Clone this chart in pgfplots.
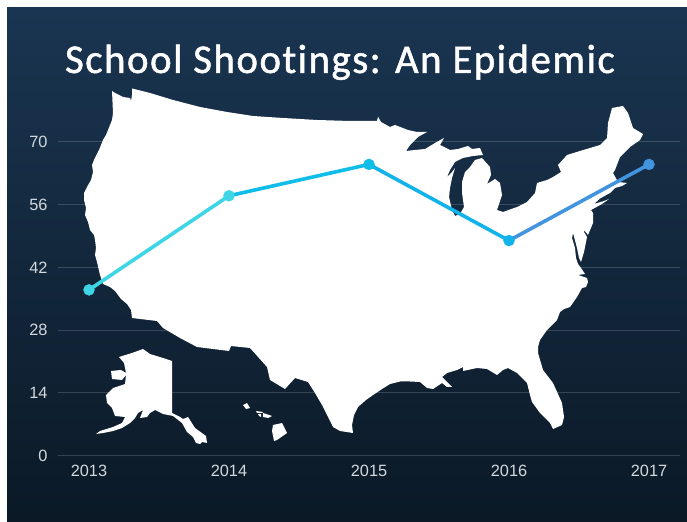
\documentclass[border=0pt]{standalone}
\usepackage{pgfplots}
\pgfplotsset{compat=1.18}
\usepackage{fontspec}
\setmainfont{Liberation Sans}
\newfontfamily\titlefont[LetterSpace=3.7,FakeBold=1.2,Ligatures=NoCommon]{Carlito}
\definecolor{bgtop}{HTML}{1A3551}
\definecolor{bgbot}{HTML}{0B1926}
\definecolor{tick}{HTML}{D4D8DC}
\definecolor{c1}{HTML}{3ED6E6}
\definecolor{c2}{HTML}{10BCE8}
\definecolor{c3}{HTML}{12B2EA}
\definecolor{c4}{HTML}{4294DE}
\begin{document}
\begin{tikzpicture}[x=1bp,y=1bp]
\useasboundingbox (0,0) rectangle (687,522);
\fill[white] (0,0) rectangle (687,522);
\foreach \i in {0,...,128}{
  \pgfmathsetmacro{\p}{100-\i*100/128}
  \pgfmathsetmacro{\yt}{514.5-\i*4}
  \fill[bgtop!\p!bgbot] (6.7,0) rectangle (687,\yt);
}
% map, in picture pixels
\begin{axis}[at={(0bp,0bp)},anchor=south west,scale only axis,width=687bp,height=522bp,
  xmin=0,xmax=687,ymin=0,ymax=522,y dir=reverse,hide axis]
\addplot[fill=white,draw=none] coordinates {
(112,91)(115,93)(123,97)(130,98)(131,101)(132,95)(132,88.5)(150,93)(173,100)(200,107)(227,112)(253,116)(283,118)(317,120)(350,121)(377,121)(378,116.7)(381,122)(390,127)(395,125)(408,130)(417,132)(427,132)
(418,137)(410,145)(406,151)(415,150)(425,149)(435,143)(444,138)(440,145)(450,150)(458,149)(468,146)(472,149)(480,148)(483,155)(473,156)(463,158)(455,162)(450,170)(447,177)(452,172)(455,168)(452,178)(450,188)(449,197)(452,210)(455,216)(460,214)(464,207)(462,193)(462,182)(465,172)(470,167)(475,160)(482,158)(490,167)(491,175)(487,184)(495,179)(500,183)(502,195)(497,210)(503,212)(517,207)(527,202)(535,193)(537,183)(547,180)(553,177)(561,172)(558,165)(567,155)(580,151)(600,145)(607,138)(608,123)(612,108)(623,106)(628,113)(633,128)(643,134)(640,140)(630,147)(620,157)(615,170)(613,173)(618,182)(627,183)(622,186)(615,188)(610,193)(600,198.5)(594,204)(604,201)(609,199)(602,204)(591,210)(593,213)(593,223)(588,235)(584,230)(584,232)(587,237)(584,252)(581,262)(579,258)(577,248)(573,233)(572,238)(575,248)(576,258)(578,264)(581,268)(585,274)(578,275)(587,278)(588,282)(586,287)(582,288)(577,297)(570,307)(564,309)(560,312)(557,320)(547,330)(540,340)(538,347)(538,353)(543,370)(553,383)(558,394)(562,403)(564,417)(562,425)(553,429)(550,423)(540,413)(532,402)(530,395)(527,383)(517,373)(508,368)(503,370)(497,375)(487,369)(477,368)(463,371)(463,367)(457,370)(447,373)(442,377)(452,387)(447,387)(442,383)(433,389)(427,388)(420,382)(410,381.5)(400,381.5)(390,384)(382,389)(373,395)(366,400)(358,407)(354,415)(352,425)(353,433)(340,431)(333,427)(328,417)(322,405)(315,393)(308,382)(295,378)(285,389)(270,380)(267,367)(259,358)(250,348)(231,346)(229,351)(197,347)(180,338)(163,328)(157,321)(132,318)(131,310)(127,304)(121,299)(115,291)(110,287)(103,284)(100,275)(97,262)(95,255)(96,248)(95,240)(94,235)(90,230)(88,222)(85,215)(86,208)(84,200)(84,193)(87,187)(91,180)(93,172)(92,165)(94,160)(99,150)(103,140)(106,135)(110,125)(112,120)(113,113)(112,91)
} -- cycle;
\addplot[fill=white,draw=none] coordinates {
(119,357)(132,353)(143,349)(150,354)(163,358)(172,361)(172,413)(180,417)(183,419)(188,417)(195,428)(206,436)(207,443)(202,442)(200,444)(196,443)(193,437)(187,432)(182,423)(173,416)(163,414)(155,410)(150,413)(147,417)(140,418)(143,410)(138,413)(135,418)(130,423)(122,428)(113,431)(103,433)(96,434)(100,431)(113,427)(122,423)(125,417)(115,416)(112,408)(107,403)(106,395)(113,388)(125,384)(126,375)(122,380)(112,379)(111,371)(121,370)(126,373)(124,363)
} -- cycle;
\addplot[fill=white,draw=none] coordinates {(273,425)(282,423)(287,433)(277,440)(274,441)(272,431)} -- cycle;
\addplot[fill=white,draw=none] coordinates {(263,413)(272,416)(268,418)(263,417)} -- cycle;
\addplot[fill=white,draw=none] coordinates {(256,411)(263,412)(262,413)(257,413)} -- cycle;
\addplot[fill=white,draw=none] coordinates {(243,405)(247,403)(250,408)(246,409)} -- cycle;
\addplot[fill=white,draw=none] coordinates {(258,414)(261,414)(261,417)(259,416)} -- cycle;
\end{axis}
% data
\begin{axis}[at={(58bp,66.3bp)},anchor=south west,scale only axis,width=622bp,height=313.7bp,
  xmin=2012.7786,xmax=2017.2214,ymin=0,ymax=70,clip=false,
  axis line style={draw=none},major tick length=0pt,
  xtick={2013,2014,2015,2016,2017},ytick={0,14,28,42,56,70},
  /pgf/number format/assume math mode=true,
  /pgf/number format/1000 sep={},
  ymajorgrids,grid style={white,opacity=0.17,line width=1bp},
  tick label style={font=\fontsize{16.4}{18}\selectfont,text=tick},
  xticklabel style={yshift=-6bp},
  yticklabel style={xshift=-7bp}]
\addplot[c1,line width=3.6bp] coordinates {(2013,37)(2014,58)};
\addplot[c2,line width=3.6bp] coordinates {(2014,58)(2015,65)};
\addplot[c3,line width=3.6bp] coordinates {(2015,65)(2016,48)};
\addplot[c4,line width=3.6bp] coordinates {(2016,48)(2017,65)};
\addplot[only marks,mark=*,mark size=5.5bp,color=c1] coordinates {(2013,37)(2014,58)};
\addplot[only marks,mark=*,mark size=5.5bp,color=c2] coordinates {(2015,65)};
\addplot[only marks,mark=*,mark size=5.5bp,color=c3] coordinates {(2016,48)};
\addplot[only marks,mark=*,mark size=5.5bp,color=c4] coordinates {(2017,65)};
\end{axis}
\node[anchor=base,inner sep=0pt,text=white,font=\titlefont\fontsize{41}{44}\selectfont] at (340,449) {School Shootings: An Epidemic};
\end{tikzpicture}
\end{document}
